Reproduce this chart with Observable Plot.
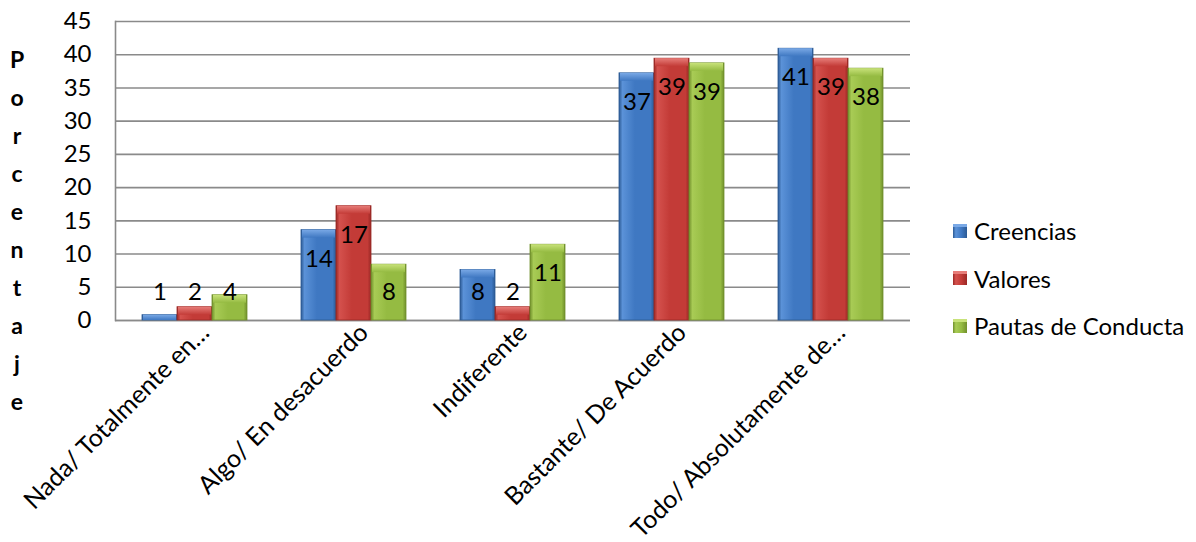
<!DOCTYPE html>
<html>
<head>
<meta charset="utf-8">
<script src="https://cdn.jsdelivr.net/npm/d3@7"></script>
<script src="https://cdn.jsdelivr.net/npm/@observablehq/plot@0.6"></script>
<style>
  html, body { margin: 0; padding: 0; background: #fff; }
  #wrap { position: relative; width: 1196px; height: 542px; font-family: Lato, "Open Sans", sans-serif; }
  #ylab { position: absolute; left: 0; top: 40px; width: 34px; text-align: center; font-weight: bold; font-size: 23px; line-height: 38px; white-space: pre; }
  #legend { position: absolute; left: 953px; top: 207px; font-size: 24px; }
  .row { display: flex; align-items: center; height: 47.5px; }
  .sw { width: 14px; height: 14px; margin-right: 7px; }
</style>
</head>
<body>
<div id="wrap"><div id="ylab"></div><div id="legend"></div></div>
<script>
const categories = ["Nada/ Totalmente en…", "Algo/ En desacuerdo", "Indiferente", "Bastante/ De Acuerdo", "Todo/ Absolutamente de…"];
const series = ["Creencias", "Valores", "Pautas de Conducta"];
const creencias = [0.8, 13.6, 7.6, 37.2, 40.9];
const valores = [2.0, 17.2, 2.0, 39.4, 39.4];
const pautas = [3.8, 8.4, 11.4, 38.7, 37.9];
const labelsCreencias = [1, 14, 8, 37, 41];
const labelsValores = [2, 17, 2, 39, 39];
const labelsPautas = [4, 8, 11, 39, 38];
const yTicks = [0, 5, 10, 15, 20, 25, 30, 35, 40, 45];
const yTitle = "Porcentaje";

const palette = {
  "Creencias": {dark: "#2c5a94", base: "#3f78c2", light: "#5b92d8", cap: "#7aa9e6"},
  "Valores": {dark: "#9a2825", base: "#c33b37", light: "#d4514d", cap: "#e77d79"},
  "Pautas de Conducta": {dark: "#71902c", base: "#95bb42", light: "#a8cb55", cap: "#c8e27a"}
};
const ids = {"Creencias": "gC", "Valores": "gV", "Pautas de Conducta": "gP"};

const values = [creencias, valores, pautas];
const labels = [labelsCreencias, labelsValores, labelsPautas];
const data = [];
categories.forEach((c, i) => series.forEach((s, j) => data.push({category: c, series: s, value: values[j][i], label: labels[j][i]})));

const font = "Lato, 'Open Sans', sans-serif";

const chart = Plot.plot({
  width: 1196,
  height: 542,
  marginLeft: 113,
  marginRight: 284,
  marginTop: 21,
  marginBottom: 222,
  style: {fontFamily: font, fontSize: "24px", color: "#000", background: "transparent"},
  fx: {domain: categories, padding: 0, label: null},
  x: {domain: series, paddingInner: 0, paddingOuter: 0.7222, axis: null},
  y: {domain: [0, 45], label: null},
  color: {domain: series, range: series.map(s => `url(#${ids[s]})`)},
  marks: [
    Plot.gridY({ticks: yTicks, stroke: "#8a8a8a", strokeOpacity: 1, strokeWidth: 1.6}),
    Plot.frame({anchor: "left", facetAnchor: "left", stroke: "#8a8a8a", strokeWidth: 1.6}),
    Plot.ruleY([0], {stroke: "#8a8a8a", strokeWidth: 1.6}),
    Plot.barY(data, {fx: "category", x: "series", y: "value", fill: "series", stroke: d => palette[d.series].dark, strokeWidth: 0.8}),
    Plot.barY(data, {fx: "category", x: "series", y1: "value", y2: d => Math.max(d.value - 1.2, 0), fill: d => `url(#${ids[d.series]}c)`, insetLeft: 1, insetRight: 1}),
    Plot.text(data, {fx: "category", x: "series", y: d => Math.max(d.value, 8.55), dy: 29, text: "label", fontSize: 24, fill: "#000", lineAnchor: "middle"}),
    Plot.axisY({ticks: yTicks, tickSize: 0, tickPadding: 24, fontSize: 24, label: null}),
    Plot.axisFx({anchor: "bottom", tickRotate: -45, tickSize: 0, tickPadding: 8, dx: 10, fontSize: 25, label: null})
  ]
});

// gradients for the bevelled bars
const ns = "http://www.w3.org/2000/svg";
const defs = document.createElementNS(ns, "defs");
for (const s of series) {
  const p = palette[s];
  const g = document.createElementNS(ns, "linearGradient");
  g.setAttribute("id", ids[s]);
  g.setAttribute("x1", "0"); g.setAttribute("x2", "1"); g.setAttribute("y1", "0"); g.setAttribute("y2", "0");
  [[0, p.dark], [0.1, p.light], [0.45, p.base], [0.9, p.base], [1, p.dark]].forEach(([o, c]) => {
    const st = document.createElementNS(ns, "stop");
    st.setAttribute("offset", o); st.setAttribute("stop-color", c);
    g.appendChild(st);
  });
  defs.appendChild(g);
  const gc = document.createElementNS(ns, "linearGradient");
  gc.setAttribute("id", ids[s] + "c");
  gc.setAttribute("x1", "0"); gc.setAttribute("x2", "0"); gc.setAttribute("y1", "0"); gc.setAttribute("y2", "1");
  [[0, p.cap], [1, p.base]].forEach(([o, c]) => {
    const st = document.createElementNS(ns, "stop");
    st.setAttribute("offset", o); st.setAttribute("stop-color", c);
    gc.appendChild(st);
  });
  defs.appendChild(gc);
}
chart.insertBefore(defs, chart.firstChild);

const wrap = document.getElementById("wrap");
wrap.insertBefore(chart, wrap.firstChild);

document.getElementById("ylab").textContent = yTitle.split("").join("\n");

const legend = document.getElementById("legend");
for (const s of series) {
  const p = palette[s];
  const row = document.createElement("div");
  row.className = "row";
  const sw = document.createElement("div");
  sw.className = "sw";
  sw.style.background = `linear-gradient(to right, ${p.dark}, ${p.light} 20%, ${p.base} 60%, ${p.dark})`;
  sw.style.boxShadow = `inset 0 3px 0 ${p.cap}`;
  const t = document.createElement("span");
  t.textContent = s;
  row.appendChild(sw); row.appendChild(t);
  legend.appendChild(row);
}
chart.style.position = "absolute";
chart.style.left = "0";
chart.style.top = "0";
</script>
</body>
</html>
